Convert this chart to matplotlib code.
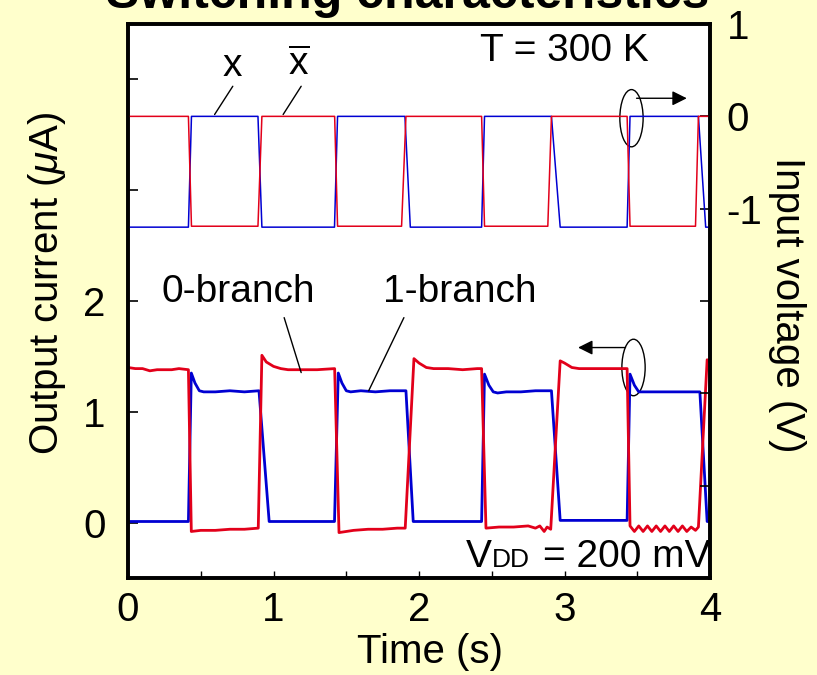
import numpy as np
import matplotlib
matplotlib.use("Agg")
import matplotlib.pyplot as plt
from matplotlib.patches import Ellipse

plt.rcParams['font.family'] = ['Liberation Sans', 'DejaVu Sans']
plt.rcParams['mathtext.fontset'] = 'custom'
plt.rcParams['mathtext.rm'] = 'Liberation Sans'
plt.rcParams['mathtext.it'] = 'Liberation Sans:italic'

# =========================
# Input voltages (V)
# =========================
t_x = [0.0, 0.415, 0.436, 0.893, 0.92, 1.419, 1.44, 1.903, 1.94, 2.43, 2.45,
       2.91, 2.97, 3.43, 3.45, 3.92, 3.97, 4.0]
v_x = [-1.2, -1.2, 0.0, 0.0, -1.2, -1.2, 0.0, 0.0, -1.2, -1.2, 0.0,
       0.0, -1.2, -1.2, 0.0, 0.0, -1.2, -1.2]

t_xbar = [0.0, 0.415, 0.436, 0.893, 0.92, 1.42, 1.44, 1.88, 1.91, 2.43, 2.45,
          2.885, 2.91, 3.43, 3.45, 3.90, 3.92, 4.0]
v_xbar = [0.0, 0.0, -1.19, -1.19, 0.0, 0.0, -1.19, -1.19, 0.0, 0.0, -1.19,
          -1.19, 0.0, 0.0, -1.19, -1.19, 0.0, 0.0]

# =========================
# Output currents (uA)
# =========================
# 0-branch (red)
t_b0 = [0.00, 0.05, 0.10, 0.15, 0.20, 0.25, 0.30, 0.35, 0.415,
        0.435, 0.50, 0.60, 0.70, 0.80, 0.895,
        0.92, 0.95, 1.00, 1.05, 1.10, 1.20, 1.30, 1.42,
        1.45, 1.55, 1.65, 1.75, 1.85, 1.905,
        1.965, 2.00, 2.05, 2.10, 2.20, 2.30, 2.40, 2.43,
        2.46, 2.55, 2.65, 2.75, 2.80, 2.83, 2.86, 2.88, 2.905,
        2.97, 3.00, 3.05, 3.10, 3.20, 3.30, 3.40, 3.43,
        3.45, 3.48, 3.51, 3.54, 3.57, 3.60, 3.63, 3.66, 3.69, 3.72, 3.75,
        3.78, 3.81, 3.84, 3.87, 3.90, 3.92,
        3.98, 4.00]
i_b0 = [1.40, 1.39, 1.39, 1.37, 1.38, 1.38, 1.38, 1.39, 1.38,
        -0.08, -0.07, -0.07, -0.06, -0.06, -0.05,
        1.51, 1.45, 1.41, 1.39, 1.38, 1.38, 1.38, 1.39,
        -0.09, -0.07, -0.06, -0.06, -0.05, -0.05,
        1.48, 1.44, 1.40, 1.39, 1.39, 1.38, 1.39, 1.39,
        -0.05, -0.04, -0.04, -0.03, -0.05, -0.03, -0.08, -0.04, -0.06,
        1.46, 1.44, 1.40, 1.39, 1.39, 1.39, 1.39, 1.39,
        -0.03, -0.08, -0.03, -0.08, -0.03, -0.08, -0.03, -0.08, -0.03, -0.08, -0.03,
        -0.08, -0.03, -0.08, -0.04, -0.07, -0.04,
        1.47, 1.45]

# 1-branch (blue)
t_b1 = [0.00, 0.415,
        0.435, 0.46, 0.49, 0.52, 0.60, 0.70, 0.80, 0.90,
        0.97, 1.419,
        1.445, 1.47, 1.50, 1.53, 1.60, 1.70, 1.80, 1.91,
        1.96, 2.43,
        2.45, 2.48, 2.51, 2.54, 2.60, 2.70, 2.80, 2.91,
        2.97, 3.43,
        3.45, 3.48, 3.51, 3.54, 3.60, 3.70, 3.80, 3.93,
        3.98, 4.00]
i_b1 = [0.01, 0.01,
        1.35, 1.26, 1.19, 1.18, 1.18, 1.19, 1.18, 1.19,
        0.01, 0.01,
        1.35, 1.26, 1.19, 1.18, 1.19, 1.18, 1.19, 1.19,
        0.01, 0.01,
        1.34, 1.24, 1.18, 1.17, 1.18, 1.18, 1.19, 1.19,
        0.02, 0.02,
        1.34, 1.24, 1.18, 1.18, 1.18, 1.18, 1.18, 1.18,
        0.01, 0.01]

RED = '#e2001a'
BLUE = '#0000d2'
BG = '#ffffcc'
FS = 29

fig = plt.figure(figsize=(8.17, 6.75), dpi=100, facecolor=BG)
ax = fig.add_axes([0.1567, 0.1437, 0.7124, 0.8207])
ax2 = ax.twinx()

# courants (axe gauche)
ax.plot(t_b1, i_b1, color=BLUE, lw=2.0)
ax.plot(t_b0, i_b0, color=RED, lw=2.0)
ax.set_xlim(0, 4)
ax.set_ylim(-0.5, 4.5)

# tensions (axe droit)
ax2.plot(t_x, v_x, color=BLUE, lw=1.1)
ax2.plot(t_xbar, v_xbar, color=RED, lw=1.1)
ax2.set_ylim(-5, 1)

# ticks
ax.set_xticks([0, 1, 2, 3, 4])
ax.set_xticks(np.arange(0, 4.01, 0.5), minor=True)
ax.set_yticks([0, 1, 2, 3, 4], ['0', '1', '2', '', ''])
ax2.set_yticks([1, 0, -1, -2, -3, -4], ['1', '0', '-1', '', '', ''])
ax.tick_params(axis='x', which='both', direction='in', length=5, width=1.0,
               pad=9, labelsize=FS)
ax.tick_params(axis='y', direction='in', length=7, width=1.2, pad=16, labelsize=FS)
ax2.tick_params(axis='y', direction='in', length=7, width=1.2, pad=12, labelsize=FS)
for a in (ax, ax2):
    for s in a.spines.values():
        s.set_linewidth(2.6)

# labels
fig.text(0.4994, 1 - 8 / 675, 'Switching characteristics', ha='center',
         va='baseline', fontsize=36, fontweight='bold')
fig.text(430 / 817, 1 - 652 / 675, 'Time (s)', ha='center', va='center', fontsize=FS)
fig.text(47 / 817, 1 - 283 / 675, r'Output current ($\mu$A)', rotation=90,
         ha='center', va='center', fontsize=FS)
fig.text(787 / 817, 1 - 305 / 675, 'Input voltage (V)', rotation=270,
         ha='center', va='center', fontsize=FS)

# annotations du haut
ax2.text(3.0, 0.71, 'T = 300 K', ha='center', va='center', fontsize=FS - 1)
ax2.text(0.72, 0.55, 'x', ha='center', va='center', fontsize=FS - 1)
ax2.text(1.17, 0.55, r'$\overline{\mathrm{x}}$', ha='center', va='center', fontsize=FS - 1)
ax2.annotate('', xy=(0.595, 0.02), xytext=(0.72, 0.326),
             arrowprops=dict(arrowstyle='-', color='k', lw=1, shrinkA=0, shrinkB=0))
ax2.annotate('', xy=(1.066, 0.02), xytext=(1.19, 0.326),
             arrowprops=dict(arrowstyle='-', color='k', lw=1, shrinkA=0, shrinkB=0))
ax2.add_patch(Ellipse((3.46, -0.02), 0.16, 0.62, fill=False, ec='k', lw=1))
ax2.annotate('', xy=(3.84, 0.196), xytext=(3.495, 0.196),
             arrowprops=dict(arrowstyle='-|>', color='k', lw=1, mutation_scale=22,
                             shrinkA=0, shrinkB=0))

# annotations du bas
ax.text(0.76, 2.08, '0-branch', ha='center', va='center', fontsize=FS - 1)
ax.text(2.277, 2.08, '1-branch', ha='center', va='center', fontsize=FS - 1)
ax.annotate('', xy=(1.19, 1.354), xytext=(1.073, 1.85),
            arrowprops=dict(arrowstyle='-', color='k', lw=1, shrinkA=0, shrinkB=0))
ax.annotate('', xy=(1.654, 1.19), xytext=(1.896, 1.85),
            arrowprops=dict(arrowstyle='-', color='k', lw=1, shrinkA=0, shrinkB=0))
ax.add_patch(Ellipse((3.474, 1.40), 0.16, 0.51, fill=False, ec='k', lw=1))
ax.annotate('', xy=(3.093, 1.58), xytext=(3.419, 1.58),
            arrowprops=dict(arrowstyle='-|>', color='k', lw=1, mutation_scale=22,
                            shrinkA=0, shrinkB=0))

# VDD
ax.text(2.50, -0.397, 'V', ha='right', va='baseline', fontsize=FS - 1)
ax.text(2.76, -0.397, 'DD', ha='right', va='baseline', fontsize=19)
ax.text(4.0, -0.397, '= 200 mV', ha='right', va='baseline', fontsize=FS - 1)

fig.savefig('out.png', dpi=100, facecolor=BG)
